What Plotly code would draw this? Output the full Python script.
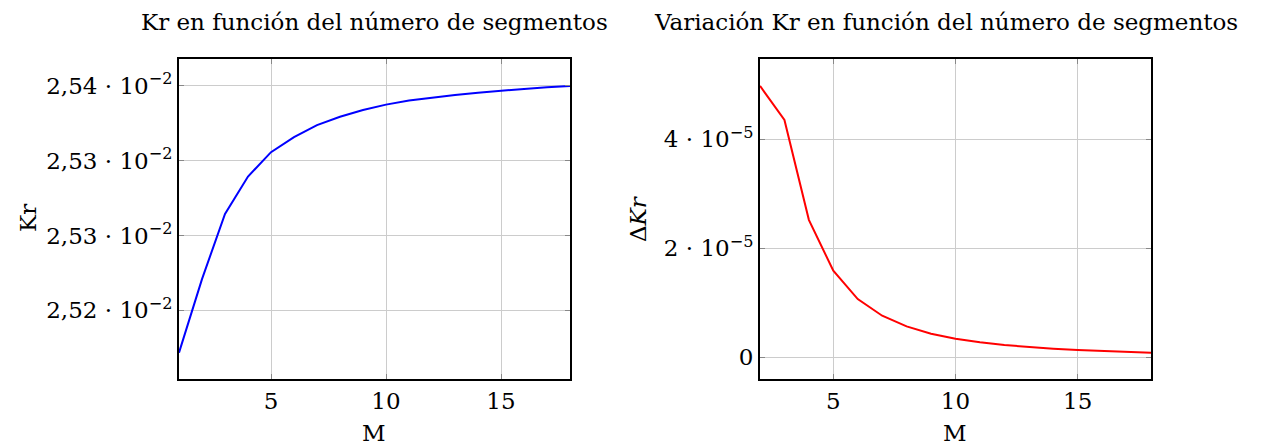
import plotly.graph_objects as go

# Data
M_kr = list(range(1, 19))
kr = [0.0252216, 0.0252708, 0.0253144, 0.0253394, 0.0253557, 0.0253658, 0.0253738,
      0.0253794, 0.0253839, 0.0253875, 0.0253902, 0.0253922, 0.0253940, 0.0253955,
      0.0253969, 0.0253980, 0.0253991, 0.0254000]

M_dkr = list(range(2, 19))
dkr = [4.98e-5, 4.355e-5, 2.52e-5, 1.584e-5, 1.064e-5, 0.758e-5, 0.563e-5, 0.428e-5,
       0.336e-5, 0.269e-5, 0.220e-5, 0.183e-5, 0.153e-5, 0.128e-5, 0.110e-5, 0.092e-5,
       0.080e-5]

x_ticks = [5, 10, 15]
kr_ticks = [0.02540, 0.02535, 0.02530, 0.02525]
kr_ticktext = ["2,54 · 10<sup>−2</sup>", "2,53 · 10<sup>−2</sup>",
               "2,53 · 10<sup>−2</sup>", "2,52 · 10<sup>−2</sup>"]
dkr_ticks = [0, 2e-5, 4e-5]
dkr_ticktext = ["0", "2 · 10<sup>−5</sup>", "4 · 10<sup>−5</sup>"]

title_left = "Kr en función del número de segmentos"
title_right = "Variación Kr en función del número de segmentos"

W, H = 1262, 446
FONT = "DejaVu Serif"
FS = 23

def px_x(p):
    return p / W

def px_y(p):
    return 1 - p / H

fig = go.Figure()
fig.add_trace(go.Scatter(x=M_kr, y=kr, mode="lines", line=dict(color="#0000ff", width=2),
                         xaxis="x", yaxis="y", showlegend=False))
fig.add_trace(go.Scatter(x=M_dkr, y=dkr, mode="lines", line=dict(color="#ff0000", width=2),
                         xaxis="x2", yaxis="y2", showlegend=False))

common = dict(showgrid=True, gridcolor="#cccccc", gridwidth=1, zeroline=False,
              showline=True, linecolor="black", linewidth=2, mirror="ticks",
              ticks="inside", ticklen=5, tickcolor="#888888", tickwidth=1,
              tickfont=dict(family=FONT, size=FS, color="black"), automargin=False)

ydom = [px_y(379), px_y(59)]
fig.update_layout(
    width=W, height=H, margin=dict(l=0, r=0, t=0, b=0),
    paper_bgcolor="white", plot_bgcolor="white",
    font=dict(family=FONT, size=FS, color="black"),
    xaxis=dict(domain=[px_x(179), px_x(570)], range=[1, 18], tickvals=x_ticks,
               anchor="y", **common),
    yaxis=dict(domain=ydom, range=[0.025204, 0.025418], tickvals=kr_ticks,
               ticktext=kr_ticktext, anchor="x", **common),
    xaxis2=dict(domain=[px_x(760), px_x(1151)], range=[2, 18], tickvals=x_ticks,
                anchor="y2", **common),
    yaxis2=dict(domain=ydom, range=[-0.404e-5, 5.474e-5], tickvals=dkr_ticks,
                ticktext=dkr_ticktext, anchor="x2", **common),
)

ann = [
    dict(text=title_left, x=px_x(374), y=px_y(22)),
    dict(text=title_right, x=px_x(946), y=px_y(22)),
    dict(text="M", x=px_x(374), y=px_y(433)),
    dict(text="M", x=px_x(955), y=px_y(433)),
    dict(text="Kr", x=px_x(28), y=px_y(218), textangle=-90),
    dict(text="Δ<i>Kr</i>", x=px_x(638), y=px_y(218), textangle=-90),
]
for a in ann:
    fig.add_annotation(xref="paper", yref="paper", showarrow=False,
                       xanchor="center", yanchor="middle",
                       font=dict(family=FONT, size=FS, color="black"), **a)

fig.write_html("out.html")
